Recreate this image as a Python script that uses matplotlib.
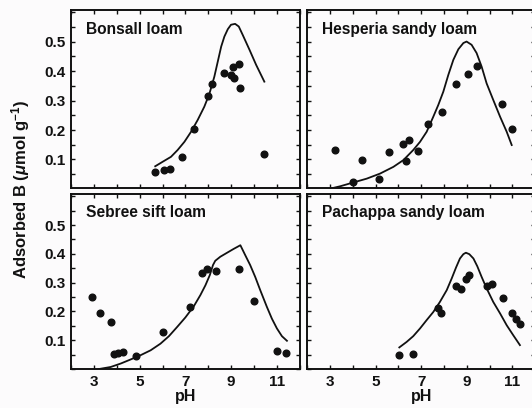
import matplotlib
matplotlib.use('Agg')
import matplotlib.pyplot as plt
from matplotlib.ticker import MultipleLocator, FixedLocator

plt.rcParams['font.family'] = ['Liberation Sans', 'DejaVu Sans']
plt.rcParams['mathtext.fontset'] = 'custom'
plt.rcParams['mathtext.rm'] = 'Liberation Sans:bold'
plt.rcParams['mathtext.it'] = 'Liberation Sans:italic:bold'
plt.rcParams['mathtext.bf'] = 'Liberation Sans:bold'

# ---------------- data ----------------
soil_names = ["Bonsall loam", "Hesperia sandy loam", "Sebree sift loam", "Pachappa sandy loam"]

bonsall_pts_ph = [5.68, 6.08, 6.34, 6.85, 7.39, 8.01, 8.15, 8.68, 9.00, 9.12, 9.10, 9.34, 9.40, 10.46]
bonsall_pts_b  = [0.058, 0.064, 0.069, 0.109, 0.205, 0.315, 0.356, 0.395, 0.387, 0.375, 0.413, 0.424, 0.341, 0.120]
bonsall_fit_ph = [5.68, 6.00, 6.37, 6.66, 6.96, 7.25, 7.54, 7.83, 8.05, 8.27, 8.57, 8.71, 8.86,
                  9.00, 9.18, 9.34, 9.51, 9.81, 10.10, 10.46]
bonsall_fit_b  = [0.077, 0.092, 0.109, 0.132, 0.160, 0.194, 0.234, 0.279, 0.322, 0.381, 0.483, 0.517, 0.542,
                  0.557, 0.560, 0.551, 0.523, 0.472, 0.421, 0.364]

hesperia_pts_ph = [3.22, 4.02, 4.42, 5.16, 5.60, 6.19, 6.32, 6.46, 6.85, 7.28, 7.90, 8.53, 9.04, 9.46, 10.53, 10.97]
hesperia_pts_b  = [0.132, 0.024, 0.098, 0.035, 0.124, 0.152, 0.095, 0.166, 0.128, 0.220, 0.262, 0.355, 0.389, 0.417, 0.288, 0.203]
hesperia_fit_ph = [3.00, 3.44, 4.02, 4.61, 5.19, 5.78, 6.22, 6.65, 6.95, 7.24, 7.53, 7.75, 7.97, 8.19,
                   8.41, 8.63, 8.85, 8.99, 9.21, 9.43, 9.65, 9.87, 10.16, 10.46, 10.75, 10.97]
hesperia_fit_b  = [0.001, 0.009, 0.022, 0.035, 0.052, 0.075, 0.098, 0.132, 0.160, 0.194, 0.245, 0.285, 0.330, 0.387,
                   0.438, 0.474, 0.495, 0.500, 0.489, 0.461, 0.415, 0.358, 0.302, 0.245, 0.194, 0.149]

sebree_pts_ph = [2.89, 3.25, 3.76, 3.87, 4.07, 4.27, 4.85, 6.01, 7.19, 7.73, 7.95, 8.34, 9.36, 10.02, 11.01, 11.41]
sebree_pts_b  = [0.251, 0.193, 0.164, 0.051, 0.054, 0.059, 0.045, 0.129, 0.214, 0.332, 0.346, 0.341, 0.347, 0.237, 0.063, 0.054]
sebree_fit_ph = [3.22, 3.73, 4.17, 4.60, 5.04, 5.48, 5.91, 6.28, 6.64, 7.00, 7.37, 7.66, 7.88, 8.07, 8.21,
                 8.31, 8.53, 8.83, 9.11, 9.41, 9.62, 9.84, 10.06, 10.28, 10.57, 10.79, 11.01, 11.23, 11.45]
sebree_fit_b  = [0.000, 0.007, 0.019, 0.033, 0.048, 0.065, 0.088, 0.114, 0.146, 0.179, 0.218, 0.257, 0.291, 0.326, 0.361,
                 0.376, 0.390, 0.404, 0.417, 0.430, 0.396, 0.361, 0.320, 0.274, 0.216, 0.175, 0.141, 0.114, 0.098]

pachappa_pts_ph = [6.04, 6.65, 7.75, 7.87, 8.53, 8.75, 8.96, 9.11, 9.87, 10.09, 10.60, 11.00, 11.16, 11.33]
pachappa_pts_b  = [0.048, 0.051, 0.212, 0.196, 0.288, 0.277, 0.311, 0.326, 0.288, 0.297, 0.245, 0.196, 0.172, 0.158]
pachappa_fit_ph = [6.04, 6.36, 6.65, 6.95, 7.24, 7.53, 7.82, 8.12, 8.34, 8.53, 8.70, 8.85, 8.96, 9.11,
                   9.29, 9.46, 9.65, 9.87, 10.16, 10.46, 10.75, 11.04, 11.33]
pachappa_fit_b  = [0.075, 0.094, 0.114, 0.141, 0.170, 0.198, 0.233, 0.274, 0.315, 0.353, 0.384, 0.399, 0.404, 0.399,
                   0.384, 0.357, 0.320, 0.280, 0.233, 0.193, 0.152, 0.117, 0.083]

x_tick_labels = [3, 5, 7, 9, 11]
y_tick_labels = [0.1, 0.2, 0.3, 0.4, 0.5]

panels = [
    (soil_names[0], bonsall_pts_ph, bonsall_pts_b, bonsall_fit_ph, bonsall_fit_b),
    (soil_names[1], hesperia_pts_ph, hesperia_pts_b, hesperia_fit_ph, hesperia_fit_b),
    (soil_names[2], sebree_pts_ph, sebree_pts_b, sebree_fit_ph, sebree_fit_b),
    (soil_names[3], pachappa_pts_ph, pachappa_pts_b, pachappa_fit_ph, pachappa_fit_b),
]

# ---------------- figure ----------------
W, H = 532, 408
bg = '#fcfbfc'
ink = '#111111'
fig = plt.figure(figsize=(W / 100, H / 100), dpi=100, facecolor=bg)

def rect(x0, x1, ytop, ybot):
    return [x0 / W, (H - ybot) / H, (x1 - x0) / W, (ybot - ytop) / H]

rects = [
    rect(71.2, 299.5, 10, 187.5),
    rect(307.2, 535.2, 10, 187.5),
    rect(71.2, 299.5, 194, 369),
    rect(307.2, 535.2, 194, 369),
]
ylims = [(0.005, 0.607), (0.005, 0.607), (0.0, 0.608), (0.0, 0.608)]

for i, (name, pph, pb, fph, fb) in enumerate(panels):
    ax = fig.add_axes(rects[i])
    ax.set_facecolor(bg)
    ax.plot(fph, fb, color=ink, lw=1.3, solid_joinstyle='round', zorder=2)
    ax.plot(pph, pb, 'o', color=ink, ms=4.8, mec=ink, zorder=3)
    ax.set_xlim(2, 12)
    ax.set_ylim(*ylims[i])
    ax.xaxis.set_major_locator(FixedLocator(x_tick_labels))
    ax.xaxis.set_minor_locator(MultipleLocator(1))
    ax.yaxis.set_major_locator(FixedLocator(y_tick_labels))
    ax.yaxis.set_minor_locator(MultipleLocator(0.05))
    ax.tick_params(which='both', direction='in', top=True, right=True,
                   color=ink, width=1.0, labelsize=11, labelcolor=ink, pad=4)
    ax.tick_params(which='major', length=3.2)
    ax.tick_params(which='minor', length=2.6)
    for s in ax.spines.values():
        s.set_linewidth(1.4)
        s.set_color(ink)
    ax.set_xticklabels([str(v) for v in x_tick_labels], fontweight='bold')
    ax.set_yticklabels([f'{v:.1f}' for v in y_tick_labels], fontweight='bold')
    if i in (0, 1):
        ax.tick_params(labelbottom=False)
    if i in (1, 3):
        ax.tick_params(labelleft=False)
    if i in (2, 3):
        ax.set_xlabel('pH', fontsize=11.5, fontweight='bold', color=ink, labelpad=0)
    ax.text(0.065, 0.866, name, transform=ax.transAxes, fontsize=11.2,
            fontweight='bold', color=ink, ha='left', va='baseline')

fig.text(21 / W, (H - 189.5) / H, r'Adsorbed B ($\mu$mol g$^{-1}$)',
         rotation=90, ha='center', va='center', fontsize=12,
         fontweight='bold', color=ink)

fig.savefig('out.png', dpi=100, facecolor=bg)
